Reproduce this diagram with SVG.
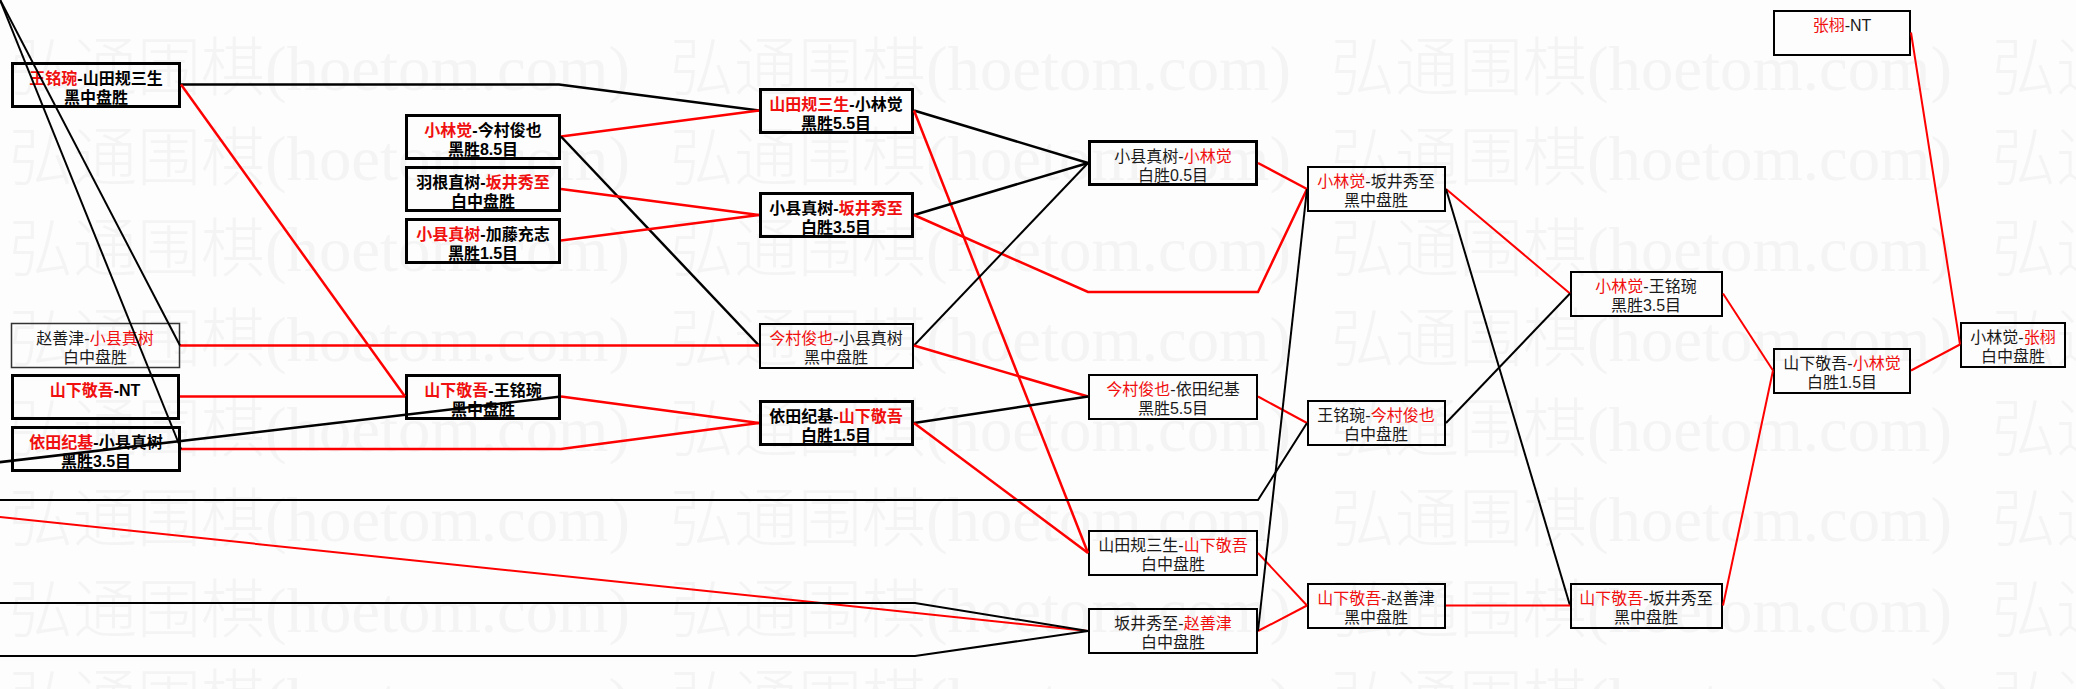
<svg xmlns="http://www.w3.org/2000/svg" xmlns:xlink="http://www.w3.org/1999/xlink" width="2076" height="689" viewBox="0 0 2076 689">
<style>
.wm{font-family:"Noto Sans CJK SC",sans-serif;font-size:64px;font-weight:300;fill:#f4f4f4}
.wma{font-family:"Liberation Serif","Noto Sans CJK SC",serif;font-size:64px;fill:#f4f4f4}
.box{fill:none;stroke:#000}
.b3{stroke-width:3}
.b2{stroke-width:2}
.b1{stroke-width:1.5;stroke:#333}
.t{font-family:"Liberation Sans","Noto Sans CJK SC",sans-serif;font-size:16px;text-anchor:middle;fill:#1a1a1a}
.bd{font-weight:bold;fill:#000}
.r{fill:#f01010}
.lr{stroke:#ff0000;fill:none;stroke-width:2}
.lk{stroke:#000;fill:none;stroke-width:2}
.w{stroke-width:2.5}
</style>
<defs>
<g id="wmu"><text class="wm" x="0" y="0">弘通围棋</text><text class="wma" x="256" y="0" textLength="365" lengthAdjust="spacingAndGlyphs">(hoetom.com)</text></g>
<g id="wmrow"><use xlink:href="#wmu" x="9"/><use xlink:href="#wmu" x="670"/><use xlink:href="#wmu" x="1331"/><use xlink:href="#wmu" x="1992"/></g>
</defs>
<rect x="0" y="0" width="2076" height="689" fill="#fdfdfd"/>
<g id="watermark">
<use xlink:href="#wmrow" y="90"/><use xlink:href="#wmrow" y="180"/><use xlink:href="#wmrow" y="271"/><use xlink:href="#wmrow" y="361"/><use xlink:href="#wmrow" y="451"/><use xlink:href="#wmrow" y="541"/><use xlink:href="#wmrow" y="632"/><use xlink:href="#wmrow" y="722"/>
</g>
<g id="nodes">
<g id="n1"><rect class="box b3" x="12.5" y="63.5" width="167" height="43"/><text class="t bd" x="96" y="84"><tspan class="r">王铭琬</tspan>-山田规三生</text><text class="t bd" x="96" y="103">黑中盘胜</text></g>
<g id="n2"><rect class="box b1" x="11.5" y="323.5" width="168" height="44"/><text class="t" x="95" y="344">赵善津-<tspan class="r">小县真树</tspan></text><text class="t" x="95" y="363">白中盘胜</text></g>
<g id="n3"><rect class="box b3" x="12.5" y="375.5" width="166" height="43"/><text class="t bd" x="95" y="396"><tspan class="r">山下敬吾</tspan>-NT</text></g>
<g id="n4"><rect class="box b3" x="12.5" y="427.5" width="167" height="43"/><text class="t bd" x="96" y="448"><tspan class="r">依田纪基</tspan>-小县真树</text><text class="t bd" x="96" y="467">黑胜3.5目</text></g>
<g id="n5"><rect class="box b3" x="406.5" y="115.5" width="153" height="43"/><text class="t bd" x="483" y="136"><tspan class="r">小林觉</tspan>-今村俊也</text><text class="t bd" x="483" y="155">黑胜8.5目</text></g>
<g id="n6"><rect class="box b3" x="406.5" y="167.5" width="153" height="43"/><text class="t bd" x="483" y="188">羽根直树-<tspan class="r">坂井秀至</tspan></text><text class="t bd" x="483" y="207">白中盘胜</text></g>
<g id="n7"><rect class="box b3" x="406.5" y="219.5" width="153" height="43"/><text class="t bd" x="483" y="240"><tspan class="r">小县真树</tspan>-加藤充志</text><text class="t bd" x="483" y="259">黑胜1.5目</text></g>
<g id="n8"><rect class="box b3" x="406.5" y="375.5" width="153" height="43"/><text class="t bd" x="483" y="396"><tspan class="r">山下敬吾</tspan>-王铭琬</text><text class="t bd" x="483" y="415">黑中盘胜</text></g>
<g id="n9"><rect class="box b3" x="760.5" y="89.5" width="152" height="43"/><text class="t bd" x="836" y="110"><tspan class="r">山田规三生</tspan>-小林觉</text><text class="t bd" x="836" y="129">黑胜5.5目</text></g>
<g id="n10"><rect class="box b3" x="760.5" y="193.5" width="152" height="43"/><text class="t bd" x="836" y="214">小县真树-<tspan class="r">坂井秀至</tspan></text><text class="t bd" x="836" y="233">白胜3.5目</text></g>
<g id="n11"><rect class="box b2" x="760" y="324" width="153" height="44"/><text class="t" x="836" y="344"><tspan class="r">今村俊也</tspan>-小县真树</text><text class="t" x="836" y="363">黑中盘胜</text></g>
<g id="n12"><rect class="box b3" x="760.5" y="401.5" width="152" height="43"/><text class="t bd" x="836" y="422">依田纪基-<tspan class="r">山下敬吾</tspan></text><text class="t bd" x="836" y="441">白胜1.5目</text></g>
<g id="n13"><rect class="box b3" x="1089.5" y="141.5" width="167" height="43"/><text class="t" x="1173" y="162">小县真树-<tspan class="r">小林觉</tspan></text><text class="t" x="1173" y="181">白胜0.5目</text></g>
<g id="n14"><rect class="box b2" x="1089" y="375" width="168" height="44"/><text class="t" x="1173" y="395"><tspan class="r">今村俊也</tspan>-依田纪基</text><text class="t" x="1173" y="414">黑胜5.5目</text></g>
<g id="n15"><rect class="box b2" x="1089" y="531" width="168" height="44"/><text class="t" x="1173" y="551">山田规三生-<tspan class="r">山下敬吾</tspan></text><text class="t" x="1173" y="570">白中盘胜</text></g>
<g id="n16"><rect class="box b2" x="1089" y="609" width="168" height="44"/><text class="t" x="1173" y="629">坂井秀至-<tspan class="r">赵善津</tspan></text><text class="t" x="1173" y="648">白中盘胜</text></g>
<g id="n17"><rect class="box b2" x="1308" y="167" width="137" height="44"/><text class="t" x="1376" y="187"><tspan class="r">小林觉</tspan>-坂井秀至</text><text class="t" x="1376" y="206">黑中盘胜</text></g>
<g id="n18"><rect class="box b2" x="1308" y="401" width="137" height="44"/><text class="t" x="1376" y="421">王铭琬-<tspan class="r">今村俊也</tspan></text><text class="t" x="1376" y="440">白中盘胜</text></g>
<g id="n19"><rect class="box b2" x="1308" y="584" width="137" height="44"/><text class="t" x="1376" y="604"><tspan class="r">山下敬吾</tspan>-赵善津</text><text class="t" x="1376" y="623">黑中盘胜</text></g>
<g id="n20"><rect class="box b2" x="1571" y="272" width="151" height="44"/><text class="t" x="1646" y="292"><tspan class="r">小林觉</tspan>-王铭琬</text><text class="t" x="1646" y="311">黑胜3.5目</text></g>
<g id="n21"><rect class="box b2" x="1571" y="584" width="151" height="44"/><text class="t" x="1646" y="604"><tspan class="r">山下敬吾</tspan>-坂井秀至</text><text class="t" x="1646" y="623">黑中盘胜</text></g>
<g id="n22"><rect class="box b2" x="1774" y="349" width="136" height="44"/><text class="t" x="1842" y="369">山下敬吾-<tspan class="r">小林觉</tspan></text><text class="t" x="1842" y="388">白胜1.5目</text></g>
<g id="n23"><rect class="box b2" x="1774" y="11" width="136" height="44"/><text class="t" x="1842" y="31"><tspan class="r">张栩</tspan>-NT</text></g>
<g id="n24"><rect class="box b2" x="1961" y="323" width="104" height="44"/><text class="t" x="2013" y="343">小林觉-<tspan class="r">张栩</tspan></text><text class="t" x="2013" y="362">白中盘胜</text></g>
</g>
<g id="connectors">
<path class="lk w" d="M181,84.5 L559,84.5 L759,110.5"/>
<path class="lr w" d="M181,84.5 L405,396.5"/>
<path class="lr w" d="M561,136.5 L759,110.5"/>
<path class="lk w" d="M561,136.5 L759,345.5"/>
<path class="lr w" d="M561,189 L759,215"/>
<path class="lr w" d="M561,240.5 L759,215"/>
<path class="lr w" d="M180,345.5 L759,345.5"/>
<path class="lr w" d="M180,396.5 L405,396.5"/>
<path class="lr w" d="M181,449 L561,449 L759,423"/>
<path class="lr w" d="M561,396.5 L759,423"/>
<path class="lk w" d="M-10,463.3 L561,396.5"/>
<path class="lk" d="M-4,-10 L181,449"/>
<path class="lk" d="M-5,-10 L180,345.5"/>
<path class="lk w" d="M914,110.5 L1088,163"/>
<path class="lr w" d="M914,110.5 L1088,553"/>
<path class="lk w" d="M914,215 L1088,163"/>
<path class="lr w" d="M914,215 L1088,292 L1258,292 L1307,189"/>
<path class="lk" d="M914,345.5 L1088,163"/>
<path class="lr w" d="M914,345.5 L1088,396.5"/>
<path class="lk w" d="M914,423 L1088,396.5"/>
<path class="lr w" d="M914,423 L1088,553"/>
<path class="lr w" d="M1258,163 L1307,189"/>
<path class="lr" d="M1258,396.5 L1307,423"/>
<path class="lk" d="M-10,500 L1258,500 L1307,423"/>
<path class="lr" d="M-10,516 L1088,631"/>
<path class="lk" d="M-10,603 L915,603 L1088,631"/>
<path class="lk" d="M-10,656 L915,656 L1088,631"/>
<path class="lr" d="M1258,553 L1307,605.5"/>
<path class="lr" d="M1258,631 L1307,605.5"/>
<path class="lk" d="M1258,631 L1307,189"/>
<path class="lr" d="M1446,189 L1570,293.5"/>
<path class="lk" d="M1446,189 L1570,605.5"/>
<path class="lk" d="M1446,423 L1570,293.5"/>
<path class="lr" d="M1446,605.5 L1570,605.5"/>
<path class="lr" d="M1723,293.5 L1773,370.5"/>
<path class="lr" d="M1723,605.5 L1773,370.5"/>
<path class="lr" d="M1911,370.5 L1960,344.5"/>
<path class="lr" d="M1911,32.5 L1960,344.5"/>
</g>
</svg>
